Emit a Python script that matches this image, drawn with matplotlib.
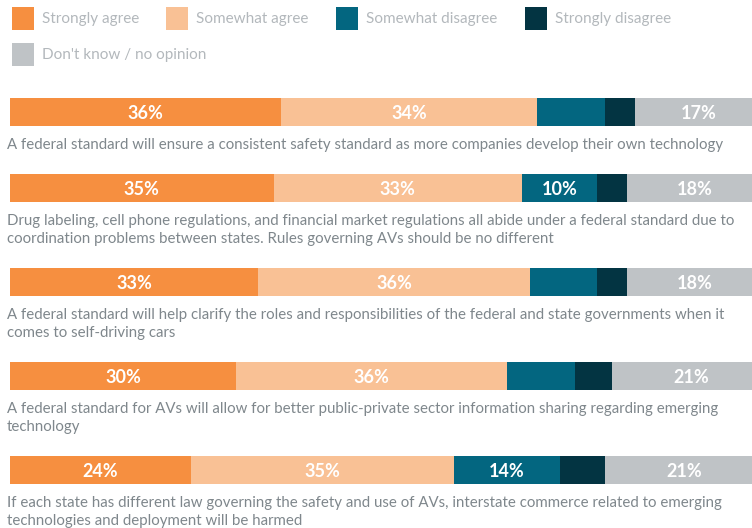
import matplotlib
matplotlib.use("Agg")
import matplotlib.pyplot as plt
from matplotlib.patches import Rectangle

categories = ["Strongly agree", "Somewhat agree", "Somewhat disagree",
              "Strongly disagree", "Don't know / no opinion"]
colors = ["#f68f40", "#f9c195", "#036680", "#033442", "#bfc3c6"]

statements = [
    "A federal standard will ensure a consistent safety standard as more companies develop their own technology",
    "Drug labeling, cell phone regulations, and financial market regulations all abide under a federal standard due to\n"
    "coordination problems between states. Rules governing AVs should be no different",
    "A federal standard will help clarify the roles and responsibilities of the federal and state governments when it\n"
    "comes to self-driving cars",
    "A federal standard for AVs will allow for better public-private sector information sharing regarding emerging\n"
    "technology",
    "If each state has different law governing the safety and use of AVs, interstate commerce related to emerging\n"
    "technologies and deployment will be harmed",
]

strongly_agree = [36, 35, 33, 30, 24]
somewhat_agree = [34, 33, 36, 36, 35]
somewhat_disagree = [9, 10, 9, 9, 14]
strongly_disagree = [4, 4, 4, 5, 6]
dont_know = [17, 18, 18, 21, 21]
series = [strongly_agree, somewhat_agree, somewhat_disagree, strongly_disagree, dont_know]

plt.rcParams['font.family'] = ['Lato', 'DejaVu Sans']

W, H = 752, 528
fig = plt.figure(figsize=(W / 100, H / 100), dpi=100)

# bars: x in percent, y in pixels from the top
bar_tops = [98, 174, 268, 362, 456]
bar_h = 28
ax = fig.add_axes([10 / W, 0, 753 / W, 1])
ax.set_xlim(0, 100)
ax.set_ylim(H, 0)
ax.axis("off")

centers = [t + bar_h / 2 for t in bar_tops]
left = [0] * len(centers)
for vals, col in zip(series, colors):
    ax.barh(centers, vals, left=left, height=bar_h, color=col, linewidth=0)
    for y, l, v in zip(centers, left, vals):
        if v >= 10:
            ax.text(l + v / 2, y + 1.5, f"{v}%", color="white", fontsize=13,
                    fontweight="bold", ha="center", va="center")
    left = [l + v for l, v in zip(left, vals)]

# overlay in plain pixel coordinates for legend and statement text
ov = fig.add_axes([0, 0, 1, 1])
ov.set_xlim(0, W)
ov.set_ylim(H, 0)
ov.axis("off")
ov.patch.set_alpha(0)

legend_pos = [(12, 7), (166, 7), (336, 7), (525, 7), (12, 43)]
for (x, y), name, col in zip(legend_pos, categories, colors):
    ov.add_patch(Rectangle((x, y), 22, 23, color=col, linewidth=0))
    ov.text(x + 30, y + 11.5, name, color="#b3b8bc", fontsize=11,
            ha="left", va="center")

for t, s in zip(bar_tops, statements):
    ov.text(7, t + bar_h + 11.5, s, color="#7f878c", fontsize=10.8,
            ha="left", va="top", linespacing=1.4)

fig.savefig("out.png", dpi=100)
